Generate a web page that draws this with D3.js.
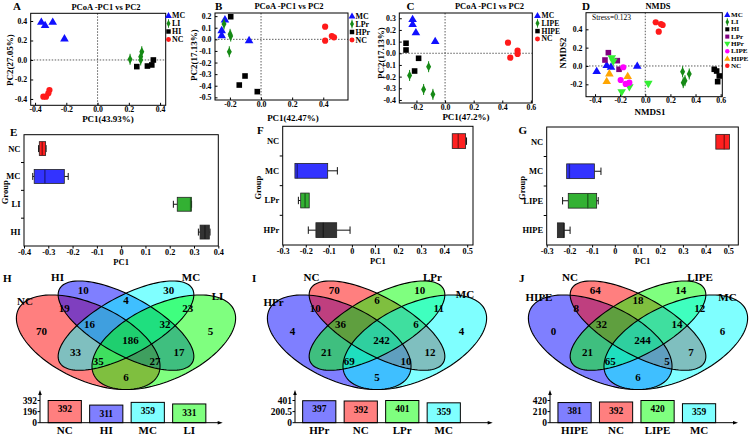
<!DOCTYPE html>
<html>
<head>
<meta charset="utf-8">
<script src="https://cdn.jsdelivr.net/npm/d3@7/dist/d3.min.js"></script>
<style>
html,body{margin:0;padding:0;background:#fff;}
svg{display:block;}
</style>
</head>
<body>
<script>
// ================= DATA =================
// Panel A  (PCoA, MC / LI / HI / NC)
const A_MC = [[-0.36,0.393],[-0.287,0.393],[-0.336,0.359],[-0.212,0.222]];
const A_LI = [[0.208,0.007],[0.283,0.085],[0.276,0.034],[0.276,0.0]];
const A_HI = [[0.251,-0.068],[0.319,-0.062],[0.347,-0.051],[0.357,0.0]];
const A_NC = [[-0.308,-0.308],[-0.315,-0.342],[-0.33,-0.376],[-0.347,-0.376]];
const A_xTicks = [-0.4,-0.2,0,0.2,0.4];
const A_yTicks = [-0.4,-0.2,0,0.2,0.4];

// Panel B  (PCoA, MC / LPr / HPr / NC)
const B_MC  = [[-0.232,0.172],[-0.253,0.08],[-0.253,0.037],[-0.077,-0.006]];
const B_LPr = [[-0.238,0.132],[-0.199,0.043],[-0.195,0.028],[-0.204,-0.107]];
const B_HPr = [[-0.195,0.195],[-0.103,-0.316],[-0.14,-0.394],[-0.024,-0.451]];
const B_NC  = [[0.412,0.109],[0.412,-0.012],[0.455,0.028],[0.469,0.017]];
const B_xTicks = [-0.2,0,0.2,0.4];
const B_yTicks = [0.2,0.1,0,-0.1,-0.2,-0.3,-0.4,-0.5];

// Panel C  (PCoA, MC / LIPE / HIPE / NC)
const C_MC   = [[-0.227,0.294],[-0.227,0.251],[-0.204,0.18],[-0.069,0.105]];
const C_LIPE = [[-0.115,-0.115],[-0.248,-0.19],[-0.15,-0.31],[-0.085,-0.352]];
const C_HIPE = [[-0.273,0.086],[-0.273,0.028],[-0.185,-0.043],[-0.213,-0.152]];
const C_NC   = [[0.44,0.091],[0.507,0.022],[0.507,-0.006],[0.456,-0.038]];
const C_xTicks = [-0.2,0,0.2,0.4,0.6];
const C_yTicks = [0.3,0.2,0.1,0,-0.1,-0.2,-0.3,-0.4];

// Panel D  (NMDS)
const D_MC   = [[-0.387,-0.055],[-0.307,0.011],[-0.273,-0.007],[-0.064,0.003]];
const D_LI   = [[0.297,-0.062],[0.35,-0.087],[0.316,-0.16],[0.302,-0.182]];
const D_HI   = [[0.549,-0.036],[0.568,-0.055],[0.589,-0.109],[0.576,-0.171]];
const D_LPr  = [[-0.294,0.145],[-0.321,0.065],[-0.223,0.058],[-0.209,-0.036]];
const D_HPr  = [[-0.267,0.084],[-0.255,0.047],[-0.188,-0.287],[-0.127,-0.232],[0.024,-0.196]];
const D_LIPE = [[-0.175,-0.014],[-0.196,-0.153],[-0.156,-0.196],[-0.127,-0.182]];
const D_HIPE = [[-0.286,-0.08],[-0.307,-0.164],[-0.14,-0.109]];
const D_NC   = [[0.083,0.477],[0.125,0.458],[0.138,0.447],[0.107,0.374]];
const D_xTicks = [-0.4,-0.2,0,0.2,0.4,0.6];
const D_yTicks = [0.4,0.2,0,-0.2];
const D_stress = "Stress=0.123";

// Panels E/F/G  box plots of PC1: [min, q1, median, q3, max]
const E_groups = ["NC","MC","LI","HI"];
const E_stats = [[-0.34,-0.337,-0.325,-0.311,-0.309],[-0.364,-0.358,-0.314,-0.234,-0.218],[0.215,0.231,0.286,0.289,0.29],[0.318,0.325,0.345,0.363,0.366]];
const E_ticks = [-0.4,-0.3,-0.2,-0.1,0,0.1,0.2,0.3,0.4];
const F_groups = ["NC","MC","LPr","HPr"];
const F_stats = [[0.435,0.435,0.461,0.493,0.497],[-0.247,-0.247,-0.237,-0.105,-0.063],[-0.232,-0.222,-0.203,-0.185,-0.185],[-0.189,-0.156,-0.124,-0.066,-0.008]];
const F_ticks = [-0.3,-0.2,-0.1,0,0.1,0.2,0.3,0.4,0.5];
const G_groups = ["NC","MC","LIPE","HIPE"];
const G_stats = [[0.445,0.445,0.482,0.505,0.505],[-0.212,-0.212,-0.2,-0.09,-0.061],[-0.23,-0.205,-0.119,-0.08,-0.073],[-0.253,-0.253,-0.224,-0.224,-0.197]];
const G_ticks = F_ticks;

// Panels H/I/J  Venn counts, order: A,B,C,D,AB,BC,CD,AC,BD,ABC,BCD,ACD,ABD,AD,ABCD
const H_sets = ["NC","HI","MC","LI"];
const H_counts = [70,10,30,5,19,4,23,33,17,16,32,35,27,6,186];
const H_barCats = ["NC","HI","MC","LI"];
const H_barVals = [392,311,359,331];
const H_barTicks = [0,196,392];
const H_tickLabels = ["0","196","392"];

const I_sets = ["HPr","NC","LPr","MC"];
const I_counts = [4,70,10,4,10,6,11,21,12,36,6,69,10,5,242];
const I_barCats = ["HPr","NC","LPr","MC"];
const I_barVals = [397,392,401,359];
const I_barTicks = [0,200.5,401];
const I_tickLabels = ["0","200.5","401"];

const J_sets = ["HIPE","NC","LIPE","MC"];
const J_counts = [0,64,14,6,8,18,12,21,7,32,14,65,5,6,244];
const J_barCats = ["HIPE","NC","LIPE","MC"];
const J_barVals = [381,392,420,359];
const J_barTicks = [0,210,420];
const J_tickLabels = ["0","210","420"];

// ================= DRAWING =================
const FONT = '"Liberation Serif","Times New Roman",Times,serif';
const svg = d3.select("body").append("svg").attr("width",750).attr("height",434);

const COL = {blue:"#1010ff", green:"#168a16", black:"#000000", red:"#ff1a1a",
             purple:"#800080", lgreen:"#33ee33", magenta:"#ff00ff", orange:"#ffa500"};

function T(g,x,y,s,o={}){
  return g.append("text").attr("x",x).attr("y",y).text(s)
    .attr("font-family",FONT).attr("font-weight",o.w||"bold").attr("font-size",o.fs||9)
    .attr("text-anchor",o.a||"start").attr("dominant-baseline",o.db||"auto")
    .attr("fill",o.fill||"#000").attr("transform",o.rot?`rotate(-90,${x},${y})`:null);
}
function sym(g,shape,x,y,c,s=1){
  const t = `translate(${x},${y}) scale(${s})`;
  if(shape==="tri") g.append("path").attr("d","M0,-4.3L4.3,3.1L-4.3,3.1Z").attr("transform",t).attr("fill",c);
  else if(shape==="itri") g.append("path").attr("d","M0,4.3L4.3,-3.1L-4.3,-3.1Z").attr("transform",t).attr("fill",c);
  else if(shape==="sq") g.append("path").attr("d","M-2.8,-2.8H2.8V2.8H-2.8Z").attr("transform",t).attr("fill",c);
  else if(shape==="circ") g.append("circle").attr("r",3.1).attr("transform",t).attr("fill",c);
  else if(shape==="dia"){
    g.append("path").attr("d","M0,-4.6L2.5,0L0,4.6L-2.5,0Z").attr("transform",t).attr("fill",c);
    g.append("path").attr("d","M0,-5.5V5.5").attr("transform",t).attr("stroke",c).attr("stroke-width",1);
  }
}
const f1 = v => v.toFixed(1);
const f0 = v => Math.abs(v)<1e-9 ? "0" : v.toFixed(1);
function styleAxis(sel,fs){
  sel.select(".domain").remove();
  sel.selectAll("text").attr("font-family",FONT).attr("font-weight","bold").attr("font-size",fs).attr("fill","#000");
  sel.selectAll("line").attr("stroke","#000");
}

function scatter(cfg){
  const g = svg.append("g");
  const x = d3.scaleLinear().domain(cfg.xd).range([cfg.x0,cfg.x1]);
  const y = d3.scaleLinear().domain(cfg.yd).range([cfg.y1,cfg.y0]);
  g.append("line").attr("x1",x(0)).attr("x2",x(0)).attr("y1",cfg.y0).attr("y2",cfg.y1)
    .attr("stroke","#333").attr("stroke-width",0.8).attr("stroke-dasharray","1.5,1.5");
  g.append("line").attr("x1",cfg.x0).attr("x2",cfg.x1).attr("y1",y(0)).attr("y2",y(0))
    .attr("stroke","#333").attr("stroke-width",0.8).attr("stroke-dasharray","1.5,1.5");
  const xa = g.append("g").attr("transform",`translate(0,${cfg.y1})`)
    .call(d3.axisBottom(x).tickValues(cfg.xt).tickFormat(f1).tickSize(-2.5).tickSizeOuter(0).tickPadding(1));
  styleAxis(xa,7.8);
  const ya = g.append("g").attr("transform",`translate(${cfg.x0},0)`)
    .call(d3.axisLeft(y).tickValues(cfg.yt).tickFormat(f1).tickSize(-2.5).tickSizeOuter(0).tickPadding(3.5));
  styleAxis(ya,7.8);
  g.append("rect").attr("x",cfg.x0).attr("y",cfg.y0).attr("width",cfg.x1-cfg.x0).attr("height",cfg.y1-cfg.y0)
    .attr("fill","none").attr("stroke","#000").attr("stroke-width",1);
  cfg.series.forEach(s=>s.pts.forEach(p=>sym(g,s.shape,x(p[0]),y(p[1]),s.color)));
  cfg.series.forEach((s,i)=>{
    sym(g,s.shape,cfg.leg.mx,cfg.leg.ys[i],s.color,cfg.leg.ms||0.8);
    T(g,cfg.leg.tx,cfg.leg.ys[i],s.name,{fs:cfg.leg.fs||7.9,db:"central"});
  });
  T(g,cfg.letter[0],cfg.letter[1],cfg.letter[2],{fs:11});
  T(g,cfg.title[0],cfg.title[1],cfg.title[2],{fs:cfg.title[3],a:"middle"});
  T(g,cfg.xlab[0],cfg.xlab[1],cfg.xlab[2],{fs:9,a:"middle",db:"central"});
  T(g,cfg.ylab[0],cfg.ylab[1],cfg.ylab[2],{fs:9,a:"middle",db:"central",rot:true});
  return {x,y,g};
}

scatter({x0:30.7,x1:165.7,y0:13.3,y1:105.3,xd:[-0.428,0.436],yd:[-0.465,0.479],xt:A_xTicks,yt:A_yTicks,
  series:[{name:"MC",pts:A_MC,shape:"tri",color:COL.blue},{name:"LI",pts:A_LI,shape:"dia",color:COL.green},
          {name:"HI",pts:A_HI,shape:"sq",color:COL.black},{name:"NC",pts:A_NC,shape:"circ",color:COL.red}],
  leg:{mx:168.5,tx:172,ys:[15.5,23.5,31.5,39.5]},
  letter:[13,10,"A"],title:[106,9.5,"PCoA -PC1 vs PC2",8.5],xlab:[108,118.8,"PC1(43.93%)"],ylab:[9.5,60,"PC2(27.05%)"]});

scatter({x0:215,x1:348,y0:13,y1:100,xd:[-0.296,0.559],yd:[-0.523,0.227],xt:B_xTicks,yt:B_yTicks,
  series:[{name:"MC",pts:B_MC,shape:"tri",color:COL.blue},{name:"LPr",pts:B_LPr,shape:"dia",color:COL.green},
          {name:"HPr",pts:B_HPr,shape:"sq",color:COL.black},{name:"NC",pts:B_NC,shape:"circ",color:COL.red}],
  leg:{mx:352,tx:355.5,ys:[16,24,32,40]},
  letter:[215,9.5,"B"],title:[289,9,"PCoA -PC1 vs PC2",8.5],xlab:[293,117.5,"PC1(42.47%)"],ylab:[193.5,55,"PC2(17.13%)"]});

scatter({x0:399.3,x1:532.3,y0:13,y1:103,xd:[-0.32,0.61],yd:[-0.426,0.345],xt:C_xTicks,yt:C_yTicks,
  series:[{name:"MC",pts:C_MC,shape:"tri",color:COL.blue},{name:"LIPE",pts:C_LIPE,shape:"dia",color:COL.green},
          {name:"HIPE",pts:C_HIPE,shape:"sq",color:COL.black},{name:"NC",pts:C_NC,shape:"circ",color:COL.red}],
  leg:{mx:537.5,tx:541.5,ys:[15.5,23.3,31.1,38.9],fs:7.6},
  letter:[406.5,9.5,"C"],title:[489.5,9,"PCoA -PC1 vs PC2",8.5],xlab:[466,116.5,"PC1(47.2%)"],ylab:[380.5,53,"PC2(17.13%)"]});

const dRes = scatter({x0:586,x1:722.3,y0:12.7,y1:96.7,xd:[-0.472,0.613],yd:[-0.335,0.581],xt:D_xTicks,yt:D_yTicks,
  series:[{name:"MC",pts:D_MC,shape:"tri",color:COL.blue},{name:"LI",pts:D_LI,shape:"dia",color:COL.green},
          {name:"HI",pts:D_HI,shape:"sq",color:COL.black},{name:"LPr",pts:D_LPr,shape:"sq",color:COL.purple},
          {name:"HPr",pts:D_HPr,shape:"itri",color:COL.lgreen},{name:"LIPE",pts:D_LIPE,shape:"circ",color:COL.magenta},
          {name:"HIPE",pts:D_HIPE,shape:"tri",color:COL.orange},{name:"NC",pts:D_NC,shape:"circ",color:COL.red}],
  leg:{mx:727.3,tx:731,ys:[14.7,22,29.3,36.6,43.9,51.2,58.5,65.8],fs:7.1,ms:0.72},
  letter:[582,9.5,"D"],title:[658,9,"NMDS",8.5],xlab:[650,111.5,"NMDS1"],ylab:[562.5,53,"NMDS2"]});
T(dRes.g,592,19.5,D_stress,{fs:7.5,w:"normal"});

// ---------- box plots ----------
const BOXCOL = {NC:"#ff2020",MC:"#3333ff",LI:"#33b133",LPr:"#33b133",LIPE:"#33b133",HI:"#333333",HPr:"#333333",HIPE:"#333333"};
function boxPanel(cfg){
  const g = svg.append("g");
  const x = d3.scaleLinear().domain(cfg.xd).range([cfg.x0,cfg.x1]);
  const y = d3.scaleBand().domain(cfg.groups).range([cfg.y0,cfg.y1]);
  const bw = y.bandwidth();
  const xa = g.append("g").attr("transform",`translate(0,${cfg.y1})`)
    .call(d3.axisBottom(x).tickValues(cfg.ticks).tickFormat(f0).tickSize(2.5).tickSizeOuter(0).tickPadding(1));
  styleAxis(xa,8.2);
  for(let i=1;i<cfg.groups.length;i++){
    g.append("line").attr("x1",cfg.x0-3).attr("x2",cfg.x0).attr("y1",cfg.y0+i*bw).attr("y2",cfg.y0+i*bw).attr("stroke","#000");
  }
  cfg.groups.forEach((c,i)=>{
    const s = cfg.stats[i], cy = y(c)+bw/2, h = bw*0.5, col = BOXCOL[c];
    const wl = (a,b)=>g.append("line").attr("x1",x(a)).attr("x2",x(b)).attr("y1",cy).attr("y2",cy).attr("stroke","#111").attr("stroke-width",1);
    if(s[0]<s[1]){ wl(s[0],s[1]); g.append("line").attr("x1",x(s[0])).attr("x2",x(s[0])).attr("y1",cy-h*0.25).attr("y2",cy+h*0.25).attr("stroke","#111"); }
    if(s[4]>s[3]){ wl(s[3],s[4]); g.append("line").attr("x1",x(s[4])).attr("x2",x(s[4])).attr("y1",cy-h*0.25).attr("y2",cy+h*0.25).attr("stroke","#111"); }
    g.append("rect").attr("x",x(s[1])).attr("y",cy-h/2).attr("width",x(s[3])-x(s[1])).attr("height",h)
      .attr("fill",col).attr("stroke","#222").attr("stroke-width",0.8);
    g.append("line").attr("x1",x(s[2])).attr("x2",x(s[2])).attr("y1",cy-h/2).attr("y2",cy+h/2)
      .attr("stroke",d3.color(col).darker(1.6)).attr("stroke-width",1.4);
    T(g,cfg.x0-3.5,cy,c,{fs:8.5,a:"end",db:"central"});
  });
  g.append("rect").attr("x",cfg.x0).attr("y",cfg.y0).attr("width",cfg.x1-cfg.x0).attr("height",cfg.y1-cfg.y0)
    .attr("fill","none").attr("stroke","#000").attr("stroke-width",1);
  T(g,cfg.letter[0],cfg.letter[1],cfg.letter[2],{fs:11});
  T(g,(cfg.x0+cfg.x1)/2,cfg.y1+15.5,"PC1",{fs:8.5,a:"middle",db:"central"});
  T(g,cfg.gx,(cfg.y0+cfg.y1)/2+2,"Group",{fs:8.5,a:"middle",db:"central",rot:true});
}
boxPanel({x0:24,x1:218.3,y0:134.7,y1:246,xd:[-0.4,0.4],ticks:E_ticks,groups:E_groups,stats:E_stats,letter:[10,136,"E"],gx:5.5});
boxPanel({x0:282.7,x1:473,y0:126.3,y1:245,xd:[-0.3,0.525],ticks:F_ticks,groups:F_groups,stats:F_stats,letter:[257,134,"F"],gx:258.5});
boxPanel({x0:546.7,x1:738.3,y0:127,y1:245,xd:[-0.3,0.544],ticks:G_ticks,groups:G_groups,stats:G_stats,letter:[518.5,134,"G"],gx:521.5});

// ---------- Venn + bars ----------
const VCOL = {red:"#ff0000",blue:"#0000ff",cyan:"#00ffff",green:"#00ff00"};
const ELL = [{u:0.35,v:0.47,a:0.35,b:0.20,ang:-45},{u:0.5,v:0.57,a:0.35,b:0.15,ang:-45},
             {u:0.5,v:0.57,a:0.35,b:0.15,ang:45},{u:0.65,v:0.47,a:0.35,b:0.20,ang:45}];
const REGION_POS = [[0.165,0.536],[0.33,0.785],[0.67,0.785],[0.835,0.536],[0.255,0.676],[0.5,0.724],[0.745,0.676],
  [0.3,0.409],[0.71,0.409],[0.355,0.579],[0.655,0.579],[0.39,0.355],[0.615,0.355],[0.5,0.258],[0.518,0.482]];
function vennPanel(cfg){
  const g = svg.append("g");
  const sx = d3.scaleLinear().domain([0.5,1.5]).range([cfg.cx,cfg.cx+252]);
  const sy = d3.scaleLinear().domain([0.185,0.839]).range([389.5,281]);
  const paths = ELL.map(e=>{
    const ph = e.ang*Math.PI/180;
    const pts = d3.range(0,360,3).map(t=>{
      const r=t*Math.PI/180;
      const u = e.u + e.a*Math.cos(r)*Math.cos(ph) - e.b*Math.sin(r)*Math.sin(ph);
      const v = e.v + e.a*Math.cos(r)*Math.sin(ph) + e.b*Math.sin(r)*Math.cos(ph);
      return [sx(u),sy(v)];
    });
    return d3.line().curve(d3.curveLinearClosed)(pts);
  });
  paths.forEach((d,i)=>g.append("path").attr("d",d).attr("fill",cfg.colors[i]).attr("fill-opacity",0.5).attr("stroke","none"));
  paths.forEach(d=>g.append("path").attr("d",d).attr("fill","none").attr("stroke","#000").attr("stroke-width",1.1));
  cfg.counts.forEach((n,i)=>T(g,sx(REGION_POS[i][0]),sy(REGION_POS[i][1]),String(n),{fs:11,a:"middle",db:"central"}));
  cfg.sets.forEach((s,i)=>T(g,cfg.setPos[i][0],cfg.setPos[i][1],s,{fs:11,a:"middle",db:"central"}));
  T(g,cfg.letter[0],cfg.letter[1],cfg.letter[2],{fs:11});

  // bar chart of totals
  const xb = d3.scaleBand().domain(cfg.barCats).range(cfg.brange).paddingInner(0.2).paddingOuter(0.1);
  const yb = d3.scaleLinear().domain([0,d3.max(cfg.barVals)]).range([422.7,400.5]);
  cfg.barCats.forEach((c,i)=>{
    g.append("rect").attr("x",xb(c)).attr("y",yb(cfg.barVals[i])).attr("width",xb.bandwidth())
      .attr("height",yb(0)-yb(cfg.barVals[i])).attr("fill",cfg.barColors[i]).attr("stroke","#000").attr("stroke-width",1);
    T(g,xb(c)+xb.bandwidth()/2,yb(cfg.barVals[i])+8.7,String(cfg.barVals[i]),{fs:9.5,a:"middle",db:"central"});
    T(g,xb(c)+xb.bandwidth()/2,433.5,c,{fs:11,a:"middle"});
  });
  const ax = cfg.ax;
  g.append("line").attr("x1",ax).attr("x2",ax).attr("y1",422.7).attr("y2",393).attr("stroke","#000").attr("stroke-width",1);
  g.append("path").attr("d",`M${ax},390L${ax-1.8},395L${ax+1.8},395Z`).attr("fill","#000");
  g.append("line").attr("x1",ax).attr("x2",cfg.xend-2).attr("y1",422.7).attr("y2",422.7).attr("stroke","#000").attr("stroke-width",1);
  g.append("path").attr("d",`M${cfg.xend+1},422.7L${cfg.xend-4},420.9L${cfg.xend-4},424.5Z`).attr("fill","#000");
  cfg.barTicks.forEach((v,i)=>{
    g.append("line").attr("x1",ax-2.5).attr("x2",ax).attr("y1",yb(v)).attr("y2",yb(v)).attr("stroke","#000");
    T(g,ax-3,yb(v),cfg.tickLabels[i],{fs:9.5,a:"end",db:"central"});
  });
}
vennPanel({cx:126,sets:H_sets,counts:H_counts,colors:[VCOL.red,VCOL.blue,VCOL.cyan,VCOL.green],
  setPos:[[25,300.5],[57.5,277],[191,277],[217.5,296]],letter:[3,282,"H"],
  barCats:H_barCats,barVals:H_barVals,barTicks:H_barTicks,tickLabels:H_tickLabels,
  barColors:["#ff7f7f","#7f7fff","#7fffff","#7fff7f"],brange:[44,210],ax:40,xend:221.7});
vennPanel({cx:377,sets:I_sets,counts:I_counts,colors:[VCOL.blue,VCOL.red,VCOL.green,VCOL.cyan],
  setPos:[[273.5,301.5],[311.5,277],[432.5,277],[465,294]],letter:[252,282,"I"],
  barCats:I_barCats,barVals:I_barVals,barTicks:I_barTicks,tickLabels:I_tickLabels,
  barColors:["#7f7fff","#ff7f7f","#7fff7f","#7fffff"],brange:[298.5,464.5],ax:295,xend:491.7});
vennPanel({cx:638,sets:J_sets,counts:J_counts,colors:[VCOL.blue,VCOL.red,VCOL.green,VCOL.cyan],
  setPos:[[539,296.5],[570,277],[700,277],[727.5,296.5]],letter:[519,282,"J"],
  barCats:J_barCats,barVals:J_barVals,barTicks:J_barTicks,tickLabels:J_tickLabels,
  barColors:["#7f7fff","#ff7f7f","#7fff7f","#7fffff"],brange:[553.8,719.8],ax:550,xend:737});
</script>
</body>
</html>
